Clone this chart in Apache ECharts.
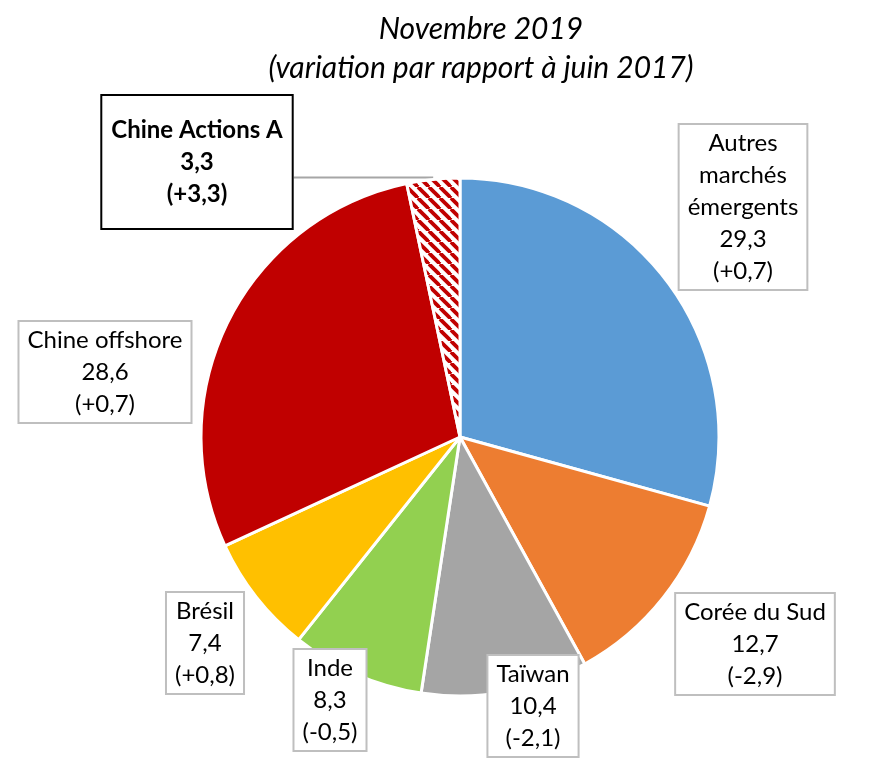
<!DOCTYPE html>
<html>
<head>
<meta charset="utf-8">
<script src="https://cdn.jsdelivr.net/npm/echarts@6/dist/echarts.min.js"></script>
<style>
  html, body { margin: 0; padding: 0; background: #fff; }
  #chart { width: 896px; height: 763px; }
</style>
</head>
<body>
<div id="chart"></div>
<script>
// parts of the EM index, in %, clockwise from 12 o'clock
const names = ['Autres\nmarchés\némergents', 'Corée du Sud', 'Taïwan', 'Inde', 'Brésil', 'Chine offshore', 'Chine Actions A']
const values = [29.3, 12.7, 10.4, 8.3, 7.4, 28.6, 3.3]
const changes = [0.7, -2.9, -2.1, -0.5, 0.8, 0.7, 3.3]

const titleLines = ['Novembre 2019', '(variation par rapport à juin 2017)']

// where each label box sits (centre, px)
const labelSpots = [[743, 207], [755, 644], [533, 706], [330, 700], [205, 643], [105, 372], [197, 162]]

const FONT = 'Lato, sans-serif'

// red / white stripes for the A-shares slice
function hatch() {
  const s = 11
  const c = document.createElement('canvas')
  c.width = s; c.height = s
  const g = c.getContext('2d')
  g.fillStyle = '#fff'
  g.fillRect(0, 0, s, s)
  g.strokeStyle = '#C00000'
  g.lineWidth = 3.8
  for (const k of [-s, 0, s]) {
    g.beginPath()
    g.moveTo(k, 0)
    g.lineTo(k + s, s)
    g.stroke()
  }
  return { image: c, repeat: 'repeat' }
}

const colors = ['#5B9BD5', '#ED7D31', '#A5A5A5', '#92D050', '#FFC000', '#C00000', hatch()]

const num = v => v.toFixed(1).replace('.', ',')
const chg = v => '(' + (v > 0 ? '+' : '') + num(v) + ')'

const chart = echarts.init(document.getElementById('chart'), null, { renderer: 'canvas' })
const last = values.length - 1

const data = values.map((v, i) => {
  const item = {
    name: names[i],
    value: v,
    itemStyle: { color: colors[i] }
  }
  if (i === last) {
    item.label = {
      fontWeight: 'bold',
      borderColor: '#000',
      padding: [19, 9, 17, 9]
    }
    item.labelLine = {
      show: true,
      length: 8,
      length2: 0,
      lineStyle: { color: '#A6A6A6', width: 2 }
    }
  }
  return item
})

chart.setOption({
  animation: false,
  title: {
    text: titleLines.join('\n'),
    left: 476,
    top: 5,
    textAlign: 'center',
    textStyle: {
      fontFamily: FONT, fontStyle: 'italic', fontWeight: 'normal',
      fontSize: 30, lineHeight: 39, color: '#000'
    }
  },
  series: [{
    type: 'pie',
    center: [460, 437],
    radius: 259,
    startAngle: 90,
    clockwise: true,
    avoidLabelOverlap: false,
    itemStyle: { borderColor: '#fff', borderWidth: 3 },
    label: {
      show: true,
      position: 'outside',
      fontFamily: FONT,
      fontSize: 24,
      lineHeight: 32,
      color: '#000',
      align: 'center',
      backgroundColor: '#fff',
      borderColor: '#BFBFBF',
      borderWidth: 2,
      padding: [3, 8, 1, 8],
      formatter: p => p.name + '\n' + num(p.value) + '\n' + chg(changes[p.dataIndex])
    },
    labelLine: { show: false },
    labelLayout: p => {
      const s = labelSpots[p.dataIndex]
      const out = { x: s[0], y: s[1], align: 'center', verticalAlign: 'middle' }
      if (p.dataIndex === last && p.labelLinePoints) {
        // flat leader from the top of the slice to the box's right side
        const a = p.labelLinePoints[0]
        out.labelLinePoints = [[a[0], a[1] - 2], [s[0] + p.labelRect.width / 2, a[1] - 2]]
      }
      return out
    },
    emphasis: { disabled: true },
    data
  }]
})
</script>
</body>
</html>
